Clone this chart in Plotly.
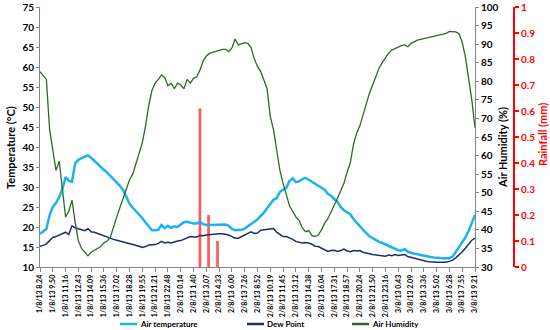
import plotly.graph_objects as go

tick_labels = [
    "1/8/13 8.24", "1/8/13 9.50", "1/8/13 11.16", "1/8/13 12.43", "1/8/13 14.09",
    "1/8/13 15.36", "1/8/13 17.02", "1/8/13 18.28", "1/8/13 19.55", "1/8/13 21.21",
    "1/8/13 22.48", "2/8/13 0.14", "2/8/13 1.40", "2/8/13 3.07", "2/8/13 4.33",
    "2/8/13 6.00", "2/8/13 7.26", "2/8/13 8.52", "2/8/13 10.19", "2/8/13 11.45",
    "2/8/13 13.12", "2/8/13 14.38", "2/8/13 16.04", "2/8/13 17.31", "2/8/13 18.57",
    "2/8/13 20.24", "2/8/13 21.50", "2/8/13 23.16", "3/8/13 0.43", "3/8/13 2.09",
    "3/8/13 3.36", "3/8/13 5.02", "3/8/13 6.28", "3/8/13 7.55", "3/8/13 9.21",
]

air_temp = [
    18.3, 18.8, 19.5, 23.0, 25.0, 26.0, 27.5, 29.5, 32.5, 31.5,
    31.3, 35.9, 36.8, 37.2, 37.5, 37.9, 37.3, 36.5, 35.7, 35.0,
    34.3, 33.6, 32.8, 32.0, 31.2, 30.3, 29.2, 27.6, 25.8, 24.8,
    24.0, 23.2, 22.2, 21.1, 20.0, 19.2, 19.2, 19.3, 20.5, 19.7,
    20.3, 19.8, 20.2, 20.0, 20.6, 21.2, 21.3, 21.0, 20.9, 20.9,
    21.3, 20.7, 20.5, 20.5, 20.5, 20.5, 20.5, 20.5, 20.6, 20.3,
    19.5, 19.2, 19.2, 19.3, 19.6, 20.2, 20.8, 21.2, 21.9, 22.8,
    23.6, 24.7, 25.8, 26.8, 27.2, 28.8, 29.3, 29.8, 31.5, 32.2,
    31.2, 31.4, 32.0, 32.3, 31.8, 31.3, 30.9, 30.3, 29.8, 29.3,
    28.3, 27.8, 27.0, 26.3, 25.0, 24.2, 23.7, 23.2, 22.0, 21.0,
    20.2, 19.3, 18.5, 17.7, 17.2, 16.7, 16.3, 16.0, 15.6, 15.2,
    14.8, 14.5, 14.2, 14.1, 14.5, 13.8, 13.5, 13.3, 13.2, 13.0,
    12.9, 12.7, 12.5, 12.4, 12.3, 12.2, 12.2, 12.2, 12.2, 12.6,
    13.8, 15.0, 16.2, 17.4, 19.0, 21.0, 23.0,
]

dew_point = [
    15.2, 15.4, 15.8, 16.5, 17.4, 17.6, 17.9, 18.2, 18.7, 18.1,
    20.3, 19.8, 19.5, 19.3, 19.1, 19.6, 18.8, 18.7, 18.4, 18.1,
    17.8, 17.4, 17.1, 16.9, 16.7, 16.5, 16.3, 16.1, 15.9, 15.7,
    15.5, 15.2, 14.9, 15.1, 15.5, 15.5, 15.6, 15.9, 16.4, 16.0,
    16.2, 16.0, 16.3, 16.5, 16.6, 17.0, 17.4, 17.6, 17.5, 17.5,
    17.9, 17.8, 18.0, 18.1, 18.2, 18.3, 18.3, 18.3, 18.2, 18.0,
    17.6, 17.2, 17.2, 17.5, 18.0, 18.4, 18.8, 18.4, 18.5, 19.2,
    19.3, 19.4, 19.5, 19.6, 18.7, 18.2, 17.6, 17.6, 17.3, 16.9,
    16.4, 16.2, 16.0, 16.1, 16.0, 15.7, 15.2, 15.1, 14.7, 14.2,
    13.9, 14.1, 14.2, 13.9, 14.1, 14.5, 14.0, 13.8, 14.1, 14.0,
    14.1, 13.7, 13.4, 13.3, 13.1, 13.0, 12.9, 12.8, 12.7, 13.0,
    12.8, 13.1, 12.9, 13.0, 13.1, 12.6, 12.4, 12.2, 11.9, 11.7,
    11.5, 11.4, 11.3, 11.2, 11.2, 11.2, 11.2, 11.2, 11.4, 11.7,
    12.3, 13.0, 13.8, 14.7, 15.7, 16.7, 17.2,
]

humidity = [
    82.6, 81.5, 80.5, 67.0, 61.5, 56.0, 58.5, 50.0, 43.5, 45.0,
    48.0, 42.0, 37.0, 35.0, 34.0, 33.0, 34.0, 34.5, 35.0, 35.5,
    36.5, 37.0, 38.0, 41.0, 43.5, 46.0, 48.5, 51.0, 53.5, 55.0,
    58.0, 60.6, 63.5, 68.0, 73.5, 77.5, 79.5, 80.5, 81.7, 81.0,
    78.8, 79.5, 78.0, 79.5, 79.0, 78.0, 80.5, 79.5, 80.8, 81.2,
    83.0, 85.5, 86.8, 87.5, 87.8, 88.2, 88.4, 88.6, 88.6, 88.0,
    89.0, 91.4, 89.8, 90.2, 90.4, 90.2, 89.0, 86.0, 84.0, 82.6,
    80.0, 78.0, 70.5, 67.0, 61.5, 56.0, 52.5, 49.5, 46.5, 45.0,
    43.5, 42.5, 40.5, 39.5, 39.8, 38.5, 38.2, 38.6, 40.0, 41.8,
    43.0, 44.8, 46.5, 48.5, 50.5, 52.5, 55.5, 58.0, 63.0, 66.0,
    68.0, 71.0, 74.0, 76.8, 79.0, 81.5, 83.5, 85.0, 86.5, 87.6,
    88.4, 88.8, 89.3, 89.6, 89.8, 89.3, 90.2, 90.7, 91.1, 91.3,
    91.5, 91.7, 92.0, 92.2, 92.4, 92.5, 92.7, 92.9, 93.4, 93.3,
    93.3, 92.8, 90.5, 86.5, 81.0, 75.0, 67.5,
]

# rainfall events (position in sample index, amount in mm)
rain_pos = [50, 52.7, 55.5]
rain_mm = [0.61, 0.2, 0.1]

series_names = ["Air temperature", "Dew Point", "Air Humidity"]
series_colors = ["#1CB2EE", "#1F2C6B", "#2E6A24"]
series_widths = [2.5, 1.5, 1.3]

samples_per_tick = 4
x = list(range(len(air_temp)))
tickvals = [k * samples_per_tick for k in range(len(tick_labels))]

FONT = "Lato"
GRAY = "#868686"
RED = "#FF0000"

# layout geometry in pixels
W, H = 550, 330
ML, MR, MT, MB = 40, 20, 7, 63
PW, PH = W - ML - MR, H - MT - MB


def px_x(p):
    return (p - ML) / PW


def px_y(p):
    return (H - MB - p) / PH


fig = go.Figure()
fig.add_trace(go.Bar(x=rain_pos, y=rain_mm, width=0.85, marker_color="#FF5A5A",
                     marker_line_width=0, yaxis="y", showlegend=False, name="Rainfall"))
for ys, nm, col, wd, ax in zip([air_temp, dew_point, humidity], series_names,
                               series_colors, series_widths, ["y2", "y2", "y3"]):
    fig.add_trace(go.Scatter(x=x, y=ys, mode="lines", name=nm,
                             line=dict(color=col, width=wd), yaxis=ax, showlegend=False))

dom_end = px_x(475)
rain_posn = px_x(514)

fig.update_layout(
    width=W, height=H,
    margin=dict(l=ML, r=MR, t=MT, b=MB, autoexpand=False),
    paper_bgcolor="white", plot_bgcolor="white",
    font=dict(family=FONT, color="black"),
    showlegend=False,
    xaxis=dict(
        domain=[0, dom_end], range=[0, len(air_temp) - 1],
        tickmode="array", tickvals=tickvals, ticktext=tick_labels,
        tickangle=-90, ticks="outside", ticklen=4, tickcolor=GRAY,
        showline=True, linecolor=GRAY, linewidth=1,
        showgrid=False, zeroline=False,
        tickfont=dict(size=7, family=FONT, weight=700, color="black"),
        automargin=False,
    ),
    yaxis=dict(
        range=[0, 1], dtick=0.1, side="right", anchor="free", position=rain_posn,
        showline=True, linecolor=RED, linewidth=2,
        ticks="outside", ticklen=4, tickcolor=RED, tickwidth=2,
        tickfont=dict(size=10, family=FONT, weight=700, color=RED),
        showgrid=False, zeroline=False, automargin=False,
    ),
    yaxis2=dict(
        range=[10, 75], dtick=5, overlaying="y", side="left", anchor="x",
        showline=True, linecolor=GRAY, linewidth=1,
        ticks="outside", ticklen=3, tickcolor=GRAY,
        tickfont=dict(size=10, family=FONT, weight=700, color="black"),
        showgrid=False, zeroline=False, automargin=False,
    ),
    yaxis3=dict(
        range=[30, 100], dtick=5, overlaying="y", side="right", anchor="x",
        showline=True, linecolor=GRAY, linewidth=1,
        ticks="outside", ticklen=3, tickcolor=GRAY,
        tickfont=dict(size=10, family=FONT, weight=700, color="black"),
        showgrid=False, zeroline=False, automargin=False,
    ),
)

# axis titles
titles = [
    ("Temperature (°C)", 10, 148, "black"),
    ("Air Humidity (%)", 502, 148, "black"),
    ("Rainfall (mm)", 542, 135, RED),
]
for txt, tx, ty, col in titles:
    fig.add_annotation(text=txt, x=px_x(tx), y=px_y(ty), xref="paper", yref="paper",
                       textangle=-90, showarrow=False, xanchor="center", yanchor="middle",
                       font=dict(size=11, family=FONT, weight=700, color=col))

# manual legend
leg_y = px_y(324)
leg_x = [120, 247, 352]
for nm, col, lx in zip(series_names, series_colors, leg_x):
    fig.add_shape(type="line", xref="paper", yref="paper",
                  x0=px_x(lx), x1=px_x(lx + 17), y0=leg_y, y1=leg_y,
                  line=dict(color=col, width=2.5))
    fig.add_annotation(text=nm, x=px_x(lx + 18), y=leg_y, xref="paper", yref="paper",
                       showarrow=False, xanchor="left", yanchor="middle",
                       font=dict(size=8, family=FONT, weight=700, color="black"))

fig.write_html("out.html", config={"displayModeBar": False},
               post_script="document.body.style.margin='0';document.body.style.overflow='hidden';")
